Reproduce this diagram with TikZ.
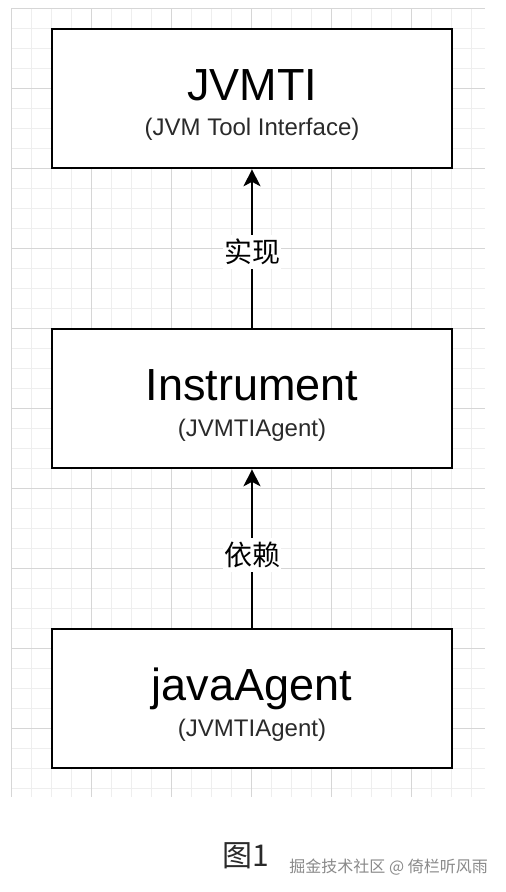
\documentclass[tikz,border=0pt]{standalone}
\usepackage{fontspec}
\setmainfont{Liberation Sans}
\newfontfamily\cjk{Noto Sans CJK SC}
\usetikzlibrary{arrows.meta}
\definecolor{gridmajor}{HTML}{D6D6D6}
\definecolor{gridminor}{HTML}{EEEEEE}
\definecolor{subtext}{HTML}{2A2A2A}
\definecolor{wmark}{HTML}{8A8A8A}
\tikzset{
  boxnode/.style={draw=black, line width=2.2pt, fill=white, minimum width=400pt, minimum height=139pt, inner sep=0pt},
  titletext/.style={font=\fontsize{45}{50}\selectfont, text=black, inner sep=0pt, anchor=base},
  subtitletext/.style={font=\fontsize{24}{27}\selectfont, text=subtext, inner sep=0pt, anchor=base},
  edgelabel/.style={font=\cjk\fontsize{28}{30}\selectfont, fill=white, inner xsep=1pt, inner ysep=4pt, text=black},
  arr/.style={line width=2pt, -{Stealth[length=17pt,width=17pt,inset=4.5pt]}},
}
\begin{document}
\begin{tikzpicture}[x=1pt, y=-1pt]
\useasboundingbox (0,0) rectangle (506,892);
\fill[white] (0,0) rectangle (506,892);
% grid
\foreach \x in {31.7,51.7,71.7,111.7,131.7,151.7,191.7,211.7,231.7,271.7,291.7,311.7,351.7,371.7,391.7,431.7,451.7,471.7}
  \draw[gridminor, line width=1pt] (\x,8.3) -- (\x,797);
\foreach \y in {28.3,48.3,68.3,108.3,128.3,148.3,188.3,208.3,228.3,268.3,288.3,308.3,348.3,368.3,388.3,428.3,448.3,468.3,508.3,528.3,548.3,588.3,608.3,628.3,668.3,688.3,708.3,748.3,768.3,788.3}
  \draw[gridminor, line width=1pt] (11.7,\y) -- (485,\y);
\foreach \x in {11.7,91.7,171.7,251.7,331.7,411.7}
  \draw[gridmajor, line width=1pt] (\x,8.3) -- (\x,797);
\foreach \y in {8.3,88.3,168.3,248.3,328.3,408.3,488.3,568.3,648.3,728.3}
  \draw[gridmajor, line width=1pt] (11.7,\y) -- (485,\y);
% boxes
\node[boxnode] (b1) at (252,98.7) {};
\node[boxnode] (b2) at (252,398.7) {};
\node[boxnode] (b3) at (252,698.7) {};
% texts
\node[titletext] (t1) at (252,100) {JVMTI};
\node[subtitletext] (s1) at (252,135.5) {(JVM Tool Interface)};
\node[titletext] (t2) at (252,400) {Instrument};
\node[subtitletext] (s2) at (252,436.5) {(JVMTIAgent)};
\node[titletext] (t3) at (252,700) {javaAgent};
\node[subtitletext] (s3) at (252,736.5) {(JVMTIAgent)};
% connectors
\draw[arr] (b2.north) -- (b1.south) node[edgelabel, pos=0.48] (l1) {实现};
\draw[arr] (b3.north) -- (b2.south) node[edgelabel, pos=0.46] (l2) {依赖};
% caption
\node[font=\cjk\fontsize{30}{32}\selectfont, text=subtext, anchor=base, inner sep=0pt] (cap) at (246,866) {图1};
\node[font=\cjk\fontsize{16}{18}\selectfont, text=wmark, anchor=base east, inner sep=0pt] (wm) at (488,872) {掘金技术社区 @ 倚栏听风雨};
\end{tikzpicture}
\end{document}
